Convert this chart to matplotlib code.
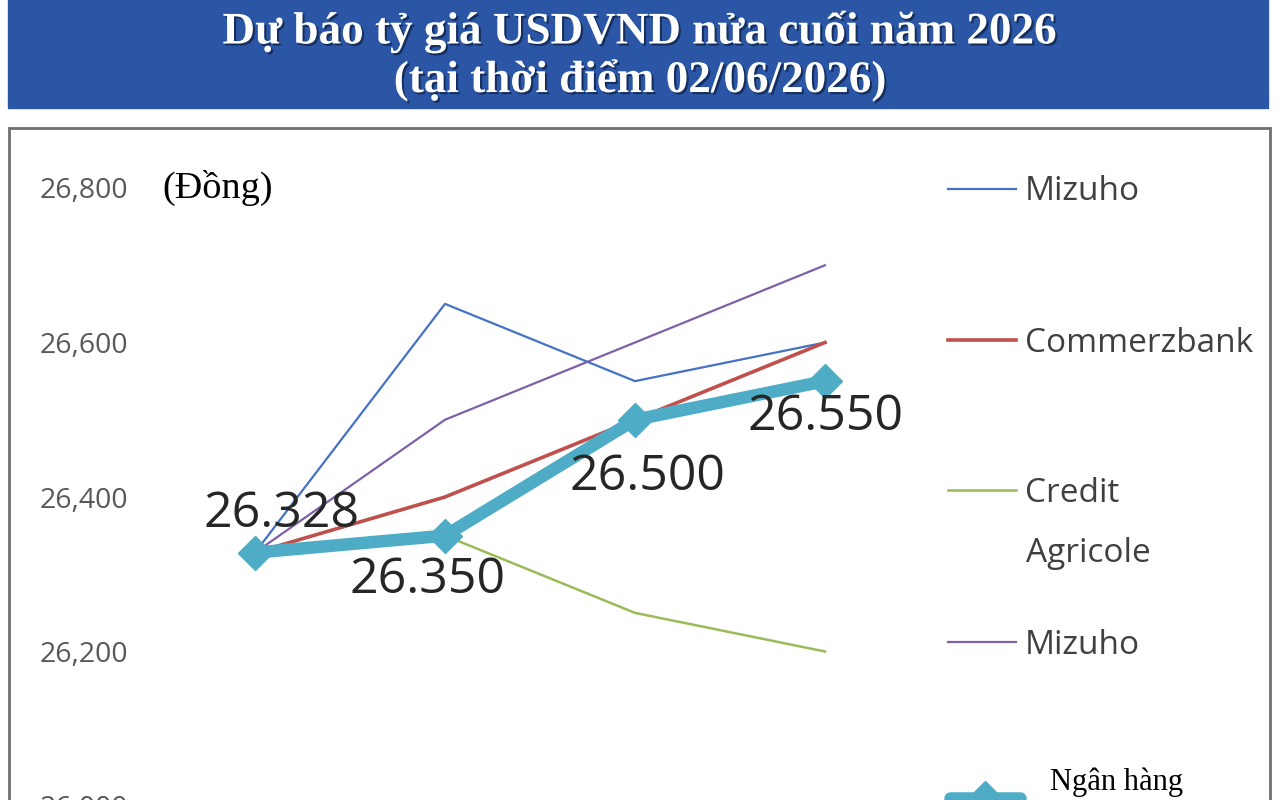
import numpy as np
import matplotlib.pyplot as plt
import matplotlib.patches as patches
import matplotlib.patheffects as pe
from matplotlib.ticker import FuncFormatter

# data
periods = [0, 1, 2, 3]
mizuho_1 = [26328, 26650, 26550, 26600]
commerzbank = [26328, 26400, 26500, 26600]
credit_agricole = [26328, 26350, 26250, 26200]
mizuho_2 = [26328, 26500, 26600, 26700]
ngan_hang = [26328, 26350, 26500, 26550]
point_labels = ["26.328", "26.350", "26.500", "26.550"]
y_ticks = [26000, 26200, 26400, 26600, 26800]

title = "Dự báo tỷ giá USDVND nửa cuối năm 2026\n(tại thời điểm 02/06/2026)"

W, H = 1280, 800
fig = plt.figure(figsize=(W / 100, H / 100), dpi=100)

def fx(px):
    return px / W

def fy(py):
    return 1 - py / H

# blue title banner
fig.patches.append(patches.Rectangle((fx(8), fy(108)), fx(1260), 108 / H,
                                     transform=fig.transFigure, color="#2A56A5", zorder=0))
fig.text(0.5, fy(56), title, ha="center", va="center", color="white",
         family="Liberation Serif", weight="bold", fontsize=32.5, linespacing=1.2,
         path_effects=[pe.withSimplePatchShadow(offset=(1.5, -1.5), shadow_rgbFace="#10254d", alpha=0.8)])

# chart frame
fig.patches.append(patches.Rectangle((fx(9), -0.05), fx(1261), fy(128) + 0.05,
                                     transform=fig.transFigure, fill=False,
                                     edgecolor="#6f6f6f", linewidth=2, zorder=0))

# axes: 26,800 at y=188 px, 26,000 at y=806 px
ax = fig.add_axes([fx(160), fy(806), fx(760), (806 - 188) / H])
ax.set_xlim(-0.5, 3.5)
ax.set_ylim(26000, 26800)
ax.set_facecolor("none")
for s in ax.spines.values():
    s.set_visible(False)
ax.set_xticks([])
ax.set_yticks(y_ticks)
ax.yaxis.set_major_formatter(FuncFormatter(lambda v, p: f"{int(v):,}"))
ax.tick_params(axis="y", length=0, pad=23, labelsize=20.5, labelcolor="#595959")
for lab in ax.get_yticklabels():
    lab.set_family("Open Sans")

l1, = ax.plot(periods, mizuho_1, color="#4472C4", linewidth=1.6)
l2, = ax.plot(periods, commerzbank, color="#C0504D", linewidth=2.6)
l3, = ax.plot(periods, credit_agricole, color="#9BBB59", linewidth=1.8)
l4, = ax.plot(periods, mizuho_2, color="#7E5FA8", linewidth=1.6)
l5, = ax.plot(periods, ngan_hang, color="#4EACC7", linewidth=9, marker="D",
              markersize=17, solid_capstyle="round", solid_joinstyle="round")

offsets = [(27, 38), (-17, -45), (12, -58), (1, -36)]
for x, y, t, off in zip(periods, ngan_hang, point_labels, offsets):
    ax.annotate(t, (x, y), xytext=off, textcoords="offset pixels", ha="center",
                va="center", fontsize=36, color="#262626", family="Open Sans")

fig.text(fx(162), fy(188), "(Đồng)", ha="left", va="center", fontsize=27.5,
         family="Liberation Serif", color="black")

# legend, one entry per block as in the original
entries = [(l1, "Mizuho", 192), (l2, "Commerzbank", 343), (l3, "Credit", 493), (l4, "Mizuho", 645)]
for h, lab, ypx in entries:
    leg = fig.legend([h], [lab], loc="center left", bbox_to_anchor=(fx(948), fy(ypx)),
                     frameon=False, borderpad=0, borderaxespad=0, handlelength=2.05,
                     handletextpad=0.25, prop={"family": "Open Sans", "size": 24})
    for t in leg.get_texts():
        t.set_color("#404040")
fig.text(fx(1026), fy(553), "Agricole", ha="left", va="center", fontsize=24,
         family="Open Sans", color="#404040")

leg = fig.legend([l5], [" "], loc="center left", bbox_to_anchor=(fx(950), fy(800)),
                 frameon=False, borderpad=0, borderaxespad=0, handlelength=2.3,
                 handletextpad=0.25, prop={"size": 22})
fig.text(fx(1050), fy(782), "Ngân hàng", ha="left", va="center", fontsize=22,
         family="Liberation Serif", color="black")

fig.savefig("out.png", dpi=100)
